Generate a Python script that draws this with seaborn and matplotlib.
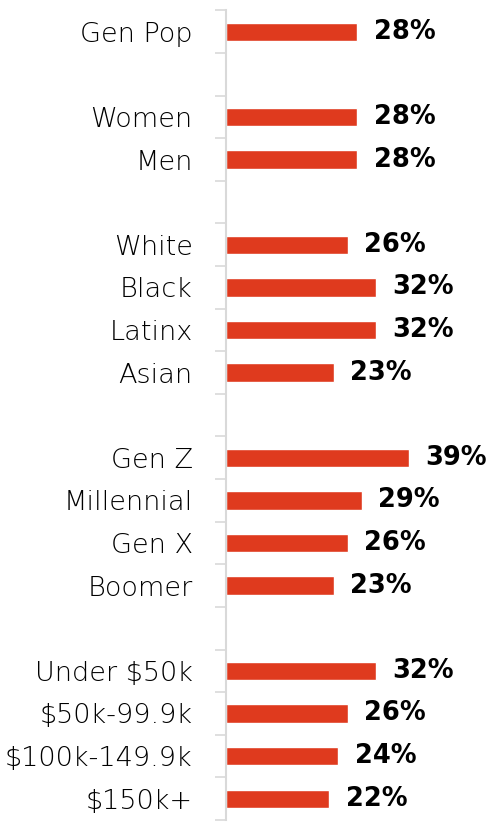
import numpy as np
import pandas as pd
import matplotlib
matplotlib.use("Agg")
import matplotlib.pyplot as plt
import seaborn as sns

# Groups shown top to bottom; blank slots separate the groups
categories = ["Gen Pop", "Women", "Men", "White", "Black", "Latinx", "Asian",
              "Gen Z", "Millennial", "Gen X", "Boomer",
              "Under $50k", "$50k-99.9k", "$100k-149.9k", "$150k+"]
values = [28, 28, 28, 26, 32, 32, 23, 39, 29, 26, 23, 32, 26, 24, 22]
slots = ["Gen Pop", " ", "Women", "Men", "  ", "White", "Black", "Latinx", "Asian",
         "   ", "Gen Z", "Millennial", "Gen X", "Boomer", "    ",
         "Under $50k", "$50k-99.9k", "$100k-149.9k", "$150k+"]

BAR_RED = "#DF3A1E"
AXIS_GREY = "#D9D9D9"

sns.set_style("white")

df = pd.DataFrame({"group": categories, "share": values})

fig = plt.figure(figsize=(5.0, 8.22), dpi=100)
ax = fig.add_axes([0.452, 0.0024, 0.548, 0.985])

sns.barplot(data=df, y="group", x="share", order=slots, orient="h",
            color=BAR_RED, saturation=1, width=0.43, ax=ax)

n = len(slots)
ax.set_ylim(n - 0.5, -0.5)
ax.set_xlim(0, 0.548 * 500 / 4.68)

# Tick marks sit between slots; labels sit at slot centres
ax.set_yticks(np.arange(n + 1) - 0.5)
ax.set_yticklabels([""] * (n + 1))
ax.set_yticks(np.arange(n), minor=True)
ax.set_yticklabels([s.strip() for s in slots], minor=True,
                   fontsize=19.5, fontfamily="DejaVu Sans", fontweight="light",
                   color="black")
ax.tick_params(axis="y", which="major", left=True, length=8, width=1.2,
               color=AXIS_GREY, direction="out")
ax.tick_params(axis="y", which="minor", left=True, length=0, pad=24,
               labelcolor="black")
ax.set_xticks([])
ax.set_xlabel("")
ax.set_ylabel("")

for side in ["top", "right", "bottom"]:
    ax.spines[side].set_visible(False)
ax.spines["left"].set_color(AXIS_GREY)
ax.spines["left"].set_linewidth(1.5)

# Value labels after each bar
pos = {s: i for i, s in enumerate(slots)}
for cat, v in zip(categories, values):
    ax.annotate(f"{v}%", xy=(v, pos[cat]), xytext=(12, 0),
                textcoords="offset points", va="center", ha="left",
                fontsize=18.5, fontweight="bold", fontfamily="DejaVu Sans",
                color="black")

fig.savefig("out.png", dpi=100)
